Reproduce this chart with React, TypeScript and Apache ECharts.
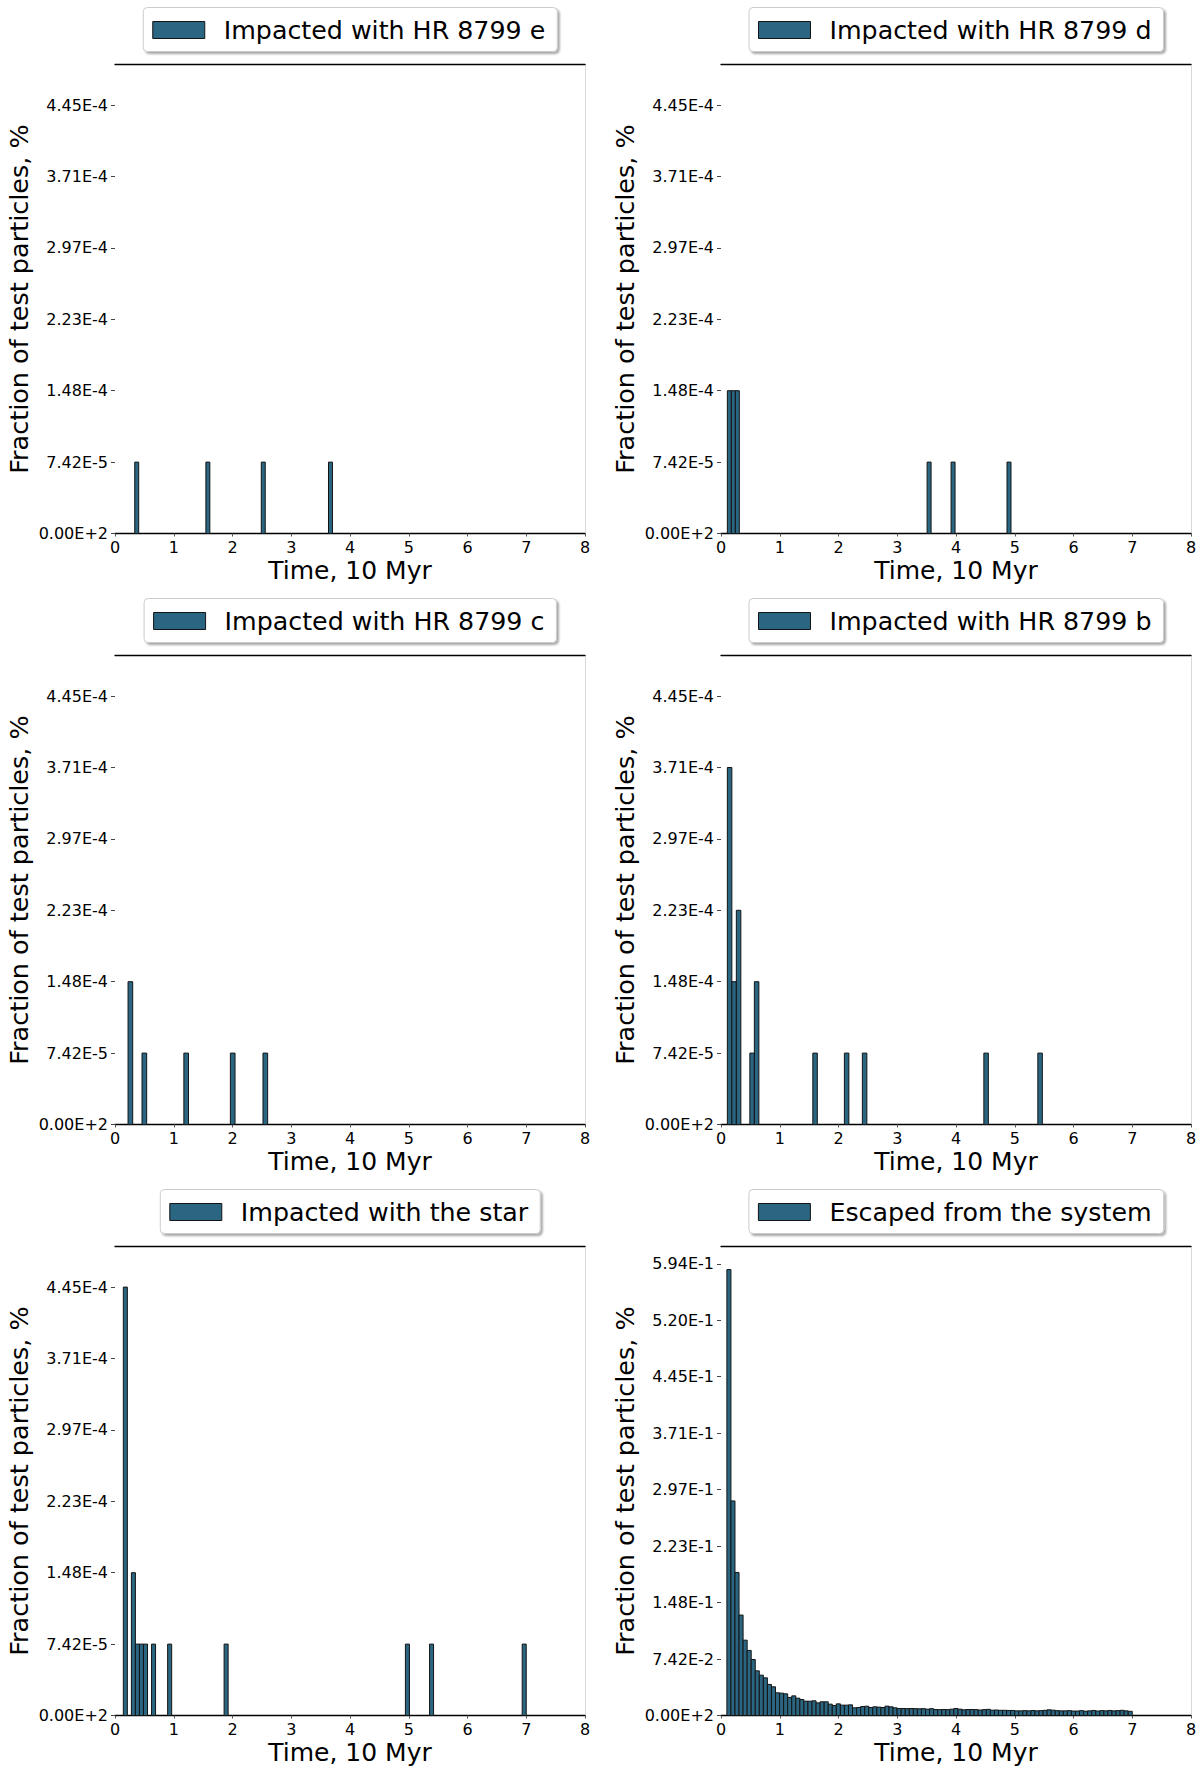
import React, { useEffect, useRef } from 'react';
import * as echarts from 'echarts';

// ---------- data ----------
const impactTickLabels = ['0.00E+2', '7.42E-5', '1.48E-4', '2.23E-4', '2.97E-4', '3.71E-4', '4.45E-4'];
const impactTickValues = [0, 7.42e-5, 1.484e-4, 2.226e-4, 2.968e-4, 3.71e-4, 4.452e-4];
const escapeTickLabels = ['0.00E+2', '7.42E-2', '1.48E-1', '2.23E-1', '2.97E-1', '3.71E-1', '4.45E-1', '5.20E-1', '5.94E-1'];
const escapeTickValues = [0, 0.0742, 0.1484, 0.2226, 0.2968, 0.371, 0.4452, 0.5194, 0.5936];

const impactYMax = 4.874e-4;
const escapeYMax = 0.6163;

// HR 8799 e
const eWidth = 0.0673;
const eTimes = [0.336, 1.547, 2.49, 3.634];
const eValues = [7.42e-5, 7.42e-5, 7.42e-5, 7.42e-5];

// HR 8799 d
const dWidth = 0.068;
const dTimes = [0.108, 0.176, 0.244, 3.508, 3.916, 4.868];
const dValues = [1.484e-4, 1.484e-4, 1.484e-4, 7.42e-5, 7.42e-5, 7.42e-5];

// HR 8799 c
const cWidth = 0.0792;
const cTimes = [0.222, 0.46, 1.172, 1.964, 2.519];
const cValues = [1.484e-4, 7.42e-5, 7.42e-5, 7.42e-5, 7.42e-5];

// HR 8799 b
const bWidth = 0.0766;
const bTimes = [0.108, 0.185, 0.261, 0.491, 0.568, 1.563, 2.1, 2.406, 4.474, 5.393];
const bValues = [3.71e-4, 1.484e-4, 2.226e-4, 7.42e-5, 1.484e-4, 7.42e-5, 7.42e-5, 7.42e-5, 7.42e-5, 7.42e-5];

// star
const sWidth = 0.06858;
const sTimes = [0.142, 0.279, 0.348, 0.416, 0.485, 0.622, 0.896, 1.857, 4.943, 5.354, 6.931];
const sValues = [4.452e-4, 1.484e-4, 7.42e-5, 7.42e-5, 7.42e-5, 7.42e-5, 7.42e-5, 7.42e-5, 7.42e-5, 7.42e-5, 7.42e-5];

// escaped (regular bins)
const escStart = 0.1;
const escWidth = 0.069;
const escValues = [
  0.586, 0.282, 0.188, 0.132, 0.099, 0.0855, 0.0736, 0.0587, 0.053, 0.0495,
  0.0408, 0.0377, 0.0298, 0.0294, 0.0285, 0.0237, 0.0258, 0.0228, 0.021, 0.0188,
  0.0188, 0.0193, 0.0166, 0.018, 0.018, 0.0149, 0.0131, 0.0153, 0.0136, 0.0136,
  0.014, 0.0101, 0.0105, 0.0118, 0.0122, 0.0105, 0.0114, 0.011, 0.0105, 0.0123,
  0.0114, 0.0101, 0.0092, 0.0092, 0.009, 0.0092, 0.009, 0.0088, 0.009, 0.0083,
  0.009, 0.0079, 0.0077, 0.0079, 0.0077, 0.0083, 0.0092, 0.0083, 0.0075, 0.0079,
  0.0079, 0.0077, 0.0072, 0.0077, 0.0081, 0.007, 0.0072, 0.0068, 0.0068, 0.0066,
  0.0066, 0.0061, 0.0061, 0.0064, 0.0061, 0.0066, 0.0061, 0.0064, 0.0068, 0.0075,
  0.007, 0.0064, 0.0061, 0.0061, 0.0064, 0.0059, 0.0059, 0.0064, 0.0057, 0.0061,
  0.0066, 0.0059, 0.0064, 0.0061, 0.0066, 0.0061, 0.0064, 0.0068, 0.0061, 0.0055,
];
const escTimes = escValues.map((_, k) => escStart + escWidth * k);

// ---------- style ----------
const FONT = 'DejaVu Sans';
const BAR = '#2a6681';
const EDGE = '#141414';

const COL_LEFT = [115, 721];
const GRID_W = 470;
const ROW_TOP = [64.5, 655.5, 1246.5];
const GRID_H = 469;

type Panel = {
  name: string; times: number[]; values: number[]; width: number;
  col: number; row: number; yMax: number; tickVals: number[]; tickLabels: string[];
};

const panels: Panel[] = [
  { name: 'Impacted with HR 8799 e', times: eTimes, values: eValues, width: eWidth, col: 0, row: 0, yMax: impactYMax, tickVals: impactTickValues, tickLabels: impactTickLabels },
  { name: 'Impacted with HR 8799 d', times: dTimes, values: dValues, width: dWidth, col: 1, row: 0, yMax: impactYMax, tickVals: impactTickValues, tickLabels: impactTickLabels },
  { name: 'Impacted with HR 8799 c', times: cTimes, values: cValues, width: cWidth, col: 0, row: 1, yMax: impactYMax, tickVals: impactTickValues, tickLabels: impactTickLabels },
  { name: 'Impacted with HR 8799 b', times: bTimes, values: bValues, width: bWidth, col: 1, row: 1, yMax: impactYMax, tickVals: impactTickValues, tickLabels: impactTickLabels },
  { name: 'Impacted with the star', times: sTimes, values: sValues, width: sWidth, col: 0, row: 2, yMax: impactYMax, tickVals: impactTickValues, tickLabels: impactTickLabels },
  { name: 'Escaped from the system', times: escTimes, values: escValues, width: escWidth, col: 1, row: 2, yMax: escapeYMax, tickVals: escapeTickValues, tickLabels: escapeTickLabels },
];

function measure(text: string, font: string): number {
  const ctx = document.createElement('canvas').getContext('2d');
  if (!ctx) return text.length * 13;
  ctx.font = font;
  return ctx.measureText(text).width;
}

function buildOption() {
  const grid: any[] = [];
  const xAxis: any[] = [];
  const yAxis: any[] = [];
  const topAxes: any[] = [];
  const rightAxes: any[] = [];
  const series: any[] = [];
  const legend: any[] = [];

  panels.forEach((p, i) => {
    const left = COL_LEFT[p.col];
    const top = ROW_TOP[p.row];
    grid.push({ left, top, width: GRID_W, height: GRID_H, containLabel: false });

    xAxis.push({
      type: 'value', gridIndex: i, min: 0, max: 8, interval: 1, position: 'bottom',
      axisLine: { show: true, onZero: false, lineStyle: { color: '#000', width: 1.3 } },
      axisTick: { show: true, length: 3, lineStyle: { color: '#555', width: 1 } },
      axisLabel: { fontSize: 16, color: '#000', margin: 6, fontFamily: FONT },
      splitLine: { show: false },
      name: 'Time, 10 Myr', nameLocation: 'middle', nameGap: 24,
      nameTextStyle: { fontSize: 25, color: '#000', fontFamily: FONT },
    });
    topAxes.push({
      type: 'value', gridIndex: i, min: 0, max: 8, position: 'top',
      axisLine: { show: true, onZero: false, lineStyle: { color: '#000', width: 1.3 } },
      axisTick: { show: false }, axisLabel: { show: false }, splitLine: { show: false },
    });

    const labels = p.tickLabels;
    const vals = p.tickVals;
    yAxis.push({
      type: 'value', gridIndex: i, min: 0, max: p.yMax, position: 'left',
      axisLine: { show: false, onZero: false },
      axisTick: { show: true, length: 4, customValues: vals, lineStyle: { color: '#444', width: 1 } },
      axisLabel: {
        customValues: vals, fontSize: 16, color: '#000', margin: 7, fontFamily: FONT,
        formatter: (v: number) => {
          let best = 0;
          for (let k = 0; k < vals.length; k++) if (Math.abs(vals[k] - v) < Math.abs(vals[best] - v)) best = k;
          return labels[best];
        },
      },
      splitLine: { show: false },
      name: 'Fraction of test particles, %', nameLocation: 'middle', nameGap: 83,
      nameTextStyle: { fontSize: 25.5, color: '#000', fontFamily: FONT },
    });
    rightAxes.push({
      type: 'value', gridIndex: i, min: 0, max: p.yMax, position: 'right',
      axisLine: { show: true, onZero: false, lineStyle: { color: '#d9d9d9', width: 1 } },
      axisTick: { show: false }, axisLabel: { show: false }, splitLine: { show: false },
    });

    const data = p.times.map((t, k) => [t, t + p.width, p.values[k]]);
    series.push({
      type: 'custom', name: p.name, xAxisIndex: i, yAxisIndex: i,
      coordinateSystem: 'cartesian2d',
      itemStyle: { color: BAR, borderColor: EDGE, borderWidth: 1 },
      encode: { x: [0, 1], y: 2 },
      data,
      renderItem: (params: any, api: any) => {
        const x0 = api.value(0);
        const x1 = api.value(1);
        const y = api.value(2);
        const p0 = api.coord([x0, 0]);
        const p1 = api.coord([x1, y]);
        return {
          type: 'rect',
          shape: { x: p0[0], y: p1[1], width: p1[0] - p0[0], height: p0[1] - p1[1] },
          style: { fill: BAR, stroke: EDGE, lineWidth: 1 },
        };
      },
    });

    const fontSize = 25.3;
    const tw = measure(p.name, `${fontSize}px "${FONT}"`);
    const total = 9 + 52 + 5 + 14 + tw + 12;
    const center = left + GRID_W / 2;
    legend.push({
      data: [{ name: p.name, icon: 'rect' }],
      left: center - total / 2, top: top - 57,
      orient: 'horizontal', selectedMode: false,
      padding: [10, 12, 9, 9],
      itemWidth: 52, itemHeight: 17,
      itemStyle: { color: BAR, borderColor: EDGE, borderWidth: 1 },
      textStyle: { fontSize, color: '#000', fontFamily: FONT, padding: [0, 0, 0, 14], lineHeight: 25 },
      backgroundColor: '#fff', borderColor: '#cccccc', borderWidth: 1, borderRadius: 4,
      shadowBlur: 2, shadowColor: 'rgba(0,0,0,0.35)', shadowOffsetX: 2, shadowOffsetY: 2,
    });
  });

  return {
    animation: false,
    backgroundColor: '#fff',
    textStyle: { fontFamily: FONT },
    grid,
    xAxis: [...xAxis, ...topAxes],
    yAxis: [...yAxis, ...rightAxes],
    legend,
    series,
  };
}

export default function App() {
  const ref = useRef<HTMLDivElement>(null);
  useEffect(() => {
    if (!ref.current) return;
    const chart = echarts.init(ref.current, null, { renderer: 'svg' });
    chart.setOption(buildOption() as any);
    return () => chart.dispose();
  }, []);
  return (
    <div
      ref={ref}
      style={{ position: 'absolute', left: 0, top: 0, width: 1200, height: 1774, background: '#fff' }}
    />
  );
}
